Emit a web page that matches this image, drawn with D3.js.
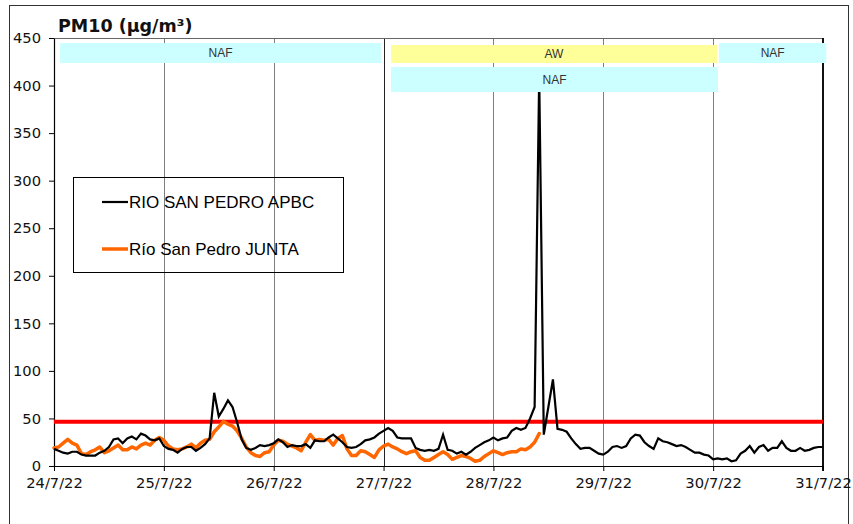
<!DOCTYPE html>
<html><head><meta charset="utf-8">
<script src="https://cdn.jsdelivr.net/npm/d3@7"></script>
<style>body{margin:0;background:#fff}svg{display:block}</style>
</head><body>
<svg id="chart" width="853" height="524"></svg>
<script>
// ---------- data ----------
const startDate = "2022-07-24";
const dayLabels = ["24/7/22","25/7/22","26/7/22","27/7/22","28/7/22","29/7/22","30/7/22","31/7/22"];
const yTickValues = [0,50,100,150,200,250,300,350,400,450];
const titleText = "PM10 (µg/m³)";
const seriesNames = ["RIO SAN PEDRO APBC","Río San Pedro JUNTA"];
// hourly values from 24/7/22 00:00
const apbc = [
  18,16,14,13,15,15,12,11,11,11,14,16,20,28,29,24,29,31,28,34,32,28,27,29,
  21,18,17,14,18,20,20,16,19,23,29,77,52,60,69,62,46,28,19,17,19,22,21,22,
  24,28,25,20,22,21,21,23,19,27,26,26,30,33,29,25,20,19,20,23,27,28,30,34,
  37,40,37,30,29,29,29,19,17,16,17,16,18,33,17,16,13,15,12,15,19,22,25,27,
  30,27,29,30,37,40,38,40,50,62,410,33,62,91,39,38,36,29,23,18,19,19,16,13,
  12,15,20,21,19,21,29,33,32,25,21,18,29,26,25,23,21,22,20,17,14,14,12,11,
  7,8,7,8,5,6,13,16,21,14,20,22,16,19,19,26,19,16,16,19,16,17,19,20,
  20
];
const junta = [
  19,20,24,28,24,22,13,12,15,17,20,14,16,19,22,17,17,20,18,22,24,22,27,30,
  27,21,18,17,18,20,23,19,24,27,28,36,41,47,44,42,37,29,20,14,11,10,14,15,
  22,27,26,23,21,19,16,25,33,27,28,27,28,22,29,32,18,11,11,16,15,12,9,17,
  21,23,20,18,15,13,15,16,9,6,6,9,12,15,12,7,9,11,10,8,5,6,10,13,
  16,14,12,14,15,15,18,17,20,25,34
];
const limitDays = [0, 7];
const limitValues = [46.5, 46.5];
// episodes (in days from start)
const episodeLabels = ["NAF","AW","NAF","NAF"];
const episodeStart = [0.055, 3.068, 3.068, 6.053];
const episodeEnd   = [2.976, 6.035, 6.044, 7.03];
const episodeRow   = [0, 0, 1, 0];

// ---------- drawing ----------
const svg = d3.select("#chart");
const W = 853, H = 524;
const pL = 54, pR = 823, pT = 38, pB = 466;
const t0 = d3.utcParse("%Y-%m-%d")(startDate);
const days = dayLabels.map((_, i) => d3.utcDay.offset(t0, i));
const x = d3.scaleUtc().domain([t0, days[days.length - 1]]).range([pL, pR]);
const y = d3.scaleLinear().domain([0, 450]).range([pB, pT]);
const hourDate = i => d3.utcHour.offset(t0, i);
const dayDate = d => new Date(t0.getTime() + d * 86400000);
const tickFont = "DejaVu Sans, Verdana, sans-serif";

svg.append("rect").attr("width", W).attr("height", H).attr("fill", "#fff");
// outer frame
svg.append("rect").attr("x", 9.5).attr("y", 5.5).attr("width", 839).attr("height", 540)
  .attr("fill", "none").attr("stroke", "#333").attr("stroke-width", 1);

// vertical gridlines
svg.append("g").selectAll("line").data(days.slice(1, -1)).join("line")
  .attr("x1", d => Math.round(x(d)) + 0.5).attr("x2", d => Math.round(x(d)) + 0.5)
  .attr("y1", pT).attr("y2", pB)
  .attr("stroke", (d, i) => i === 2 ? "#222" : "#7f7f7f").attr("stroke-width", 1);

// plot frame top & right
svg.append("line").attr("x1", pL).attr("x2", pR).attr("y1", pT + 0.5).attr("y2", pT + 0.5)
  .attr("stroke", "#666").attr("stroke-width", 1.2);
svg.append("line").attr("x1", Math.round(x(days[7]))).attr("x2", Math.round(x(days[7])))
  .attr("y1", pT).attr("y2", pB + 5).attr("stroke", "#111").attr("stroke-width", 2);

// axes
const xAxis = d3.axisBottom(x).tickValues(days).tickFormat((d, i) => dayLabels[i])
  .tickSize(5).tickSizeOuter(0).tickPadding(7);
const gx = svg.append("g").attr("transform", `translate(0,${pB})`).call(xAxis);
gx.selectAll("text").attr("font-family", tickFont).attr("font-size", "14.7px").attr("fill", "#111");
gx.selectAll("line").attr("stroke", "#000");
gx.select(".domain").attr("stroke", "#000").attr("stroke-width", 1.2);

const yAxis = d3.axisLeft(y).tickValues(yTickValues).tickSize(5).tickSizeOuter(0).tickPadding(8);
const gy = svg.append("g").attr("transform", `translate(${pL},0)`).call(yAxis);
gy.selectAll("text").attr("font-family", tickFont).attr("font-size", "14.7px").attr("fill", "#111");
gy.selectAll("line").attr("stroke", "#000");
gy.select(".domain").attr("stroke", "#000").attr("stroke-width", 1.2);

// title
svg.append("text").attr("x", 58).attr("y", 31.5).text(titleText)
  .attr("font-family", tickFont).attr("font-weight", "bold").attr("font-size", "17.5px").attr("fill", "#111");

// limit line
const limitLine = d3.line().x((d, i) => x(dayDate(limitDays[i]))).y(d => y(d));
svg.append("path").datum(limitValues).attr("d", limitLine)
  .attr("fill", "none").attr("stroke", "#ff0000").attr("stroke-width", 4);

// series
const line = d3.line().x((d, i) => x(hourDate(i))).y(d => y(d));
svg.append("path").datum(junta).attr("d", line)
  .attr("fill", "none").attr("stroke", "#ff6600").attr("stroke-width", 3.5)
  .attr("stroke-linejoin", "round").attr("stroke-linecap", "round");
svg.append("path").datum(apbc).attr("d", line)
  .attr("fill", "none").attr("stroke", "#000").attr("stroke-width", 2.2)
  .attr("stroke-linejoin", "miter");

// legend
const lg = svg.append("g");
lg.append("rect").attr("x", 73.5).attr("y", 177.5).attr("width", 270).attr("height", 95)
  .attr("fill", "none").attr("stroke", "#000").attr("stroke-width", 1);
const legendColors = ["#000", "#ff6600"];
const legendWidths = [2.2, 3.5];
seriesNames.forEach((name, i) => {
  const ly = 202 + i * 47;
  lg.append("line").attr("x1", 102).attr("x2", 128).attr("y1", ly).attr("y2", ly)
    .attr("stroke", legendColors[i]).attr("stroke-width", legendWidths[i]);
  lg.append("text").attr("x", 129).attr("y", ly + 6).text(name)
    .attr("font-family", "Liberation Sans, Arial, sans-serif").attr("font-size", "17px").attr("fill", "#000");
});

// episode boxes (drawn on top)
const rowTop = [43, 67], rowH = [20, 25];
const episodeColor = l => l === "AW" ? "#ffff99" : "#ccffff";
const eg = svg.append("g");
episodeLabels.forEach((lab, i) => {
  const x0 = x(dayDate(episodeStart[i])), x1 = x(dayDate(episodeEnd[i]));
  const r = episodeRow[i];
  const yt = rowTop[r] + (lab === "AW" ? 2 : 0), hh = rowH[r] - (lab === "AW" ? 2 : 0);
  eg.append("rect").attr("x", x0).attr("y", yt).attr("width", x1 - x0).attr("height", hh)
    .attr("fill", episodeColor(lab));
  eg.append("text").attr("x", (x0 + x1) / 2).attr("y", yt + hh / 2 + 4.3)
    .attr("text-anchor", "middle").text(lab)
    .attr("font-family", "Liberation Sans, Arial, sans-serif").attr("font-size", "12px").attr("fill", "#333");
});
</script>
</body></html>
